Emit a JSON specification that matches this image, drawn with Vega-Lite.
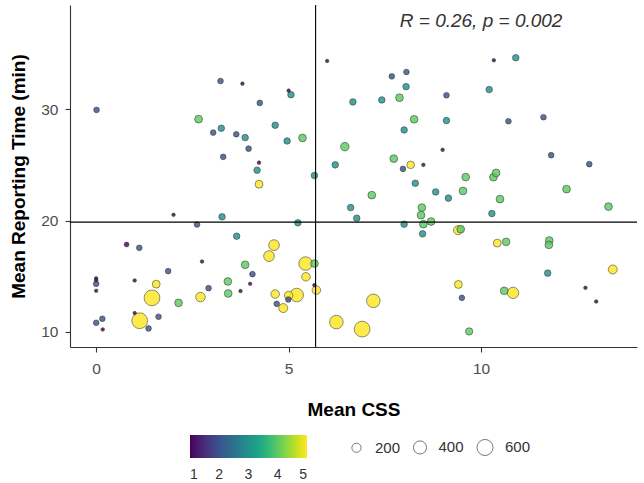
{
  "$schema": "https://vega.github.io/schema/vega-lite/v6.json",
  "width": 567,
  "height": 342,
  "autosize": {"type": "none"},
  "padding": {"left": 70, "top": 5, "right": 7, "bottom": 136},
  "background": "white",
  "config": {"font": "Liberation Sans", "view": {"stroke": null}, "axis": {"grid": false}},
  "datasets": {
    "pts": [
    {"css": 0.01, "rt": 29.94, "sev": 2, "n": 75},
    {"css": 3.23, "rt": 32.54, "sev": 2, "n": 75},
    {"css": 3.80, "rt": 32.30, "sev": 1, "n": 30},
    {"css": 4.25, "rt": 30.57, "sev": 2, "n": 75},
    {"css": 2.66, "rt": 29.11, "sev": 4, "n": 145},
    {"css": 3.04, "rt": 27.90, "sev": 2, "n": 75},
    {"css": 3.25, "rt": 28.29, "sev": 3, "n": 100},
    {"css": 3.64, "rt": 27.75, "sev": 2, "n": 75},
    {"css": 3.87, "rt": 27.45, "sev": 3, "n": 100},
    {"css": 3.96, "rt": 26.46, "sev": 2, "n": 75},
    {"css": 3.30, "rt": 25.72, "sev": 2, "n": 75},
    {"css": 4.23, "rt": 25.20, "sev": 1, "n": 30},
    {"css": 4.18, "rt": 24.52, "sev": 3, "n": 100},
    {"css": 6.00, "rt": 34.34, "sev": 1, "n": 30},
    {"css": 7.68, "rt": 32.96, "sev": 2, "n": 75},
    {"css": 8.06, "rt": 33.35, "sev": 2, "n": 75},
    {"css": 8.05, "rt": 32.03, "sev": 3, "n": 100},
    {"css": 7.88, "rt": 31.04, "sev": 4, "n": 140},
    {"css": 7.42, "rt": 30.84, "sev": 3, "n": 100},
    {"css": 6.67, "rt": 30.66, "sev": 3, "n": 100},
    {"css": 5.00, "rt": 31.67, "sev": 1, "n": 30},
    {"css": 5.06, "rt": 31.31, "sev": 3, "n": 100},
    {"css": 4.65, "rt": 28.56, "sev": 3, "n": 100},
    {"css": 4.96, "rt": 27.15, "sev": 3, "n": 100},
    {"css": 5.36, "rt": 27.42, "sev": 4, "n": 140},
    {"css": 6.46, "rt": 26.64, "sev": 4, "n": 170},
    {"css": 8.26, "rt": 29.10, "sev": 4, "n": 140},
    {"css": 8.00, "rt": 28.14, "sev": 3, "n": 100},
    {"css": 9.10, "rt": 31.26, "sev": 2, "n": 75},
    {"css": 9.10, "rt": 28.98, "sev": 3, "n": 100},
    {"css": 9.00, "rt": 26.35, "sev": 1, "n": 30},
    {"css": 7.73, "rt": 25.56, "sev": 4, "n": 140},
    {"css": 8.17, "rt": 25.00, "sev": 5, "n": 135},
    {"css": 7.97, "rt": 24.64, "sev": 2, "n": 75},
    {"css": 8.50, "rt": 25.00, "sev": 1, "n": 30},
    {"css": 6.21, "rt": 25.00, "sev": 3, "n": 100},
    {"css": 5.67, "rt": 24.04, "sev": 3, "n": 100},
    {"css": 10.33, "rt": 34.40, "sev": 1, "n": 30},
    {"css": 10.90, "rt": 34.63, "sev": 3, "n": 100},
    {"css": 10.21, "rt": 31.77, "sev": 3, "n": 100},
    {"css": 10.71, "rt": 28.92, "sev": 2, "n": 75},
    {"css": 11.62, "rt": 29.28, "sev": 2, "n": 75},
    {"css": 11.82, "rt": 25.87, "sev": 2, "n": 75},
    {"css": 12.81, "rt": 25.06, "sev": 2, "n": 75},
    {"css": 9.60, "rt": 23.90, "sev": 4, "n": 140},
    {"css": 10.32, "rt": 23.89, "sev": 4, "n": 140},
    {"css": 10.39, "rt": 24.28, "sev": 4, "n": 140},
    {"css": 9.53, "rt": 22.66, "sev": 4, "n": 140},
    {"css": 9.15, "rt": 22.01, "sev": 3, "n": 100},
    {"css": 10.49, "rt": 21.92, "sev": 4, "n": 140},
    {"css": 12.22, "rt": 22.82, "sev": 4, "n": 140},
    {"css": 13.31, "rt": 21.25, "sev": 4, "n": 140},
    {"css": 10.28, "rt": 20.62, "sev": 3, "n": 100},
    {"css": 9.47, "rt": 19.22, "sev": 4, "n": 140},
    {"css": 9.40, "rt": 19.13, "sev": 5, "n": 190},
    {"css": 10.42, "rt": 17.97, "sev": 5, "n": 145},
    {"css": 10.65, "rt": 18.08, "sev": 4, "n": 140},
    {"css": 11.77, "rt": 18.20, "sev": 4, "n": 140},
    {"css": 11.76, "rt": 17.81, "sev": 4, "n": 140},
    {"css": 11.73, "rt": 15.27, "sev": 3, "n": 100},
    {"css": 13.42, "rt": 15.60, "sev": 5, "n": 190},
    {"css": 9.41, "rt": 14.25, "sev": 5, "n": 145},
    {"css": 9.50, "rt": 13.05, "sev": 2, "n": 75},
    {"css": 10.60, "rt": 13.68, "sev": 4, "n": 140},
    {"css": 10.83, "rt": 13.50, "sev": 5, "n": 300},
    {"css": 12.71, "rt": 13.95, "sev": 1, "n": 30},
    {"css": 12.99, "rt": 12.72, "sev": 1, "n": 30},
    {"css": 9.69, "rt": 10.03, "sev": 4, "n": 125},
    {"css": 4.23, "rt": 23.26, "sev": 5, "n": 145},
    {"css": 7.16, "rt": 22.28, "sev": 4, "n": 140},
    {"css": 8.29, "rt": 23.35, "sev": 3, "n": 100},
    {"css": 8.82, "rt": 22.57, "sev": 3, "n": 100},
    {"css": 6.61, "rt": 21.16, "sev": 3, "n": 100},
    {"css": 6.77, "rt": 20.21, "sev": 3, "n": 100},
    {"css": 5.24, "rt": 19.79, "sev": 3, "n": 100},
    {"css": 8.46, "rt": 21.16, "sev": 4, "n": 140},
    {"css": 8.44, "rt": 20.48, "sev": 4, "n": 140},
    {"css": 8.70, "rt": 19.91, "sev": 4, "n": 140},
    {"css": 8.50, "rt": 19.67, "sev": 4, "n": 140},
    {"css": 8.00, "rt": 19.67, "sev": 3, "n": 100},
    {"css": 8.48, "rt": 18.80, "sev": 3, "n": 100},
    {"css": 4.62, "rt": 17.79, "sev": 5, "n": 270},
    {"css": 4.49, "rt": 16.80, "sev": 5, "n": 270},
    {"css": 5.44, "rt": 16.13, "sev": 5, "n": 430},
    {"css": 5.67, "rt": 16.13, "sev": 4, "n": 140},
    {"css": 5.45, "rt": 14.94, "sev": 5, "n": 170},
    {"css": 5.72, "rt": 13.74, "sev": 5, "n": 170},
    {"css": 5.67, "rt": 14.19, "sev": 1, "n": 30},
    {"css": 4.65, "rt": 13.39, "sev": 5, "n": 170},
    {"css": 5.00, "rt": 13.26, "sev": 5, "n": 170},
    {"css": 5.21, "rt": 13.30, "sev": 5, "n": 430},
    {"css": 4.69, "rt": 12.51, "sev": 2, "n": 75},
    {"css": 4.99, "rt": 12.90, "sev": 2, "n": 75},
    {"css": 4.86, "rt": 12.13, "sev": 5, "n": 190},
    {"css": 7.20, "rt": 12.78, "sev": 5, "n": 430},
    {"css": 6.24, "rt": 10.87, "sev": 5, "n": 430},
    {"css": 6.91, "rt": 10.24, "sev": 5, "n": 580},
    {"css": 2.01, "rt": 20.51, "sev": 1, "n": 30},
    {"css": 2.62, "rt": 19.64, "sev": 2, "n": 75},
    {"css": 3.27, "rt": 20.33, "sev": 3, "n": 100},
    {"css": 3.65, "rt": 18.59, "sev": 3, "n": 100},
    {"css": 0.79, "rt": 17.84, "sev": 1, "n": 55},
    {"css": 1.12, "rt": 17.54, "sev": 2, "n": 75},
    {"css": 2.75, "rt": 16.31, "sev": 1, "n": 30},
    {"css": 3.87, "rt": 16.02, "sev": 4, "n": 140},
    {"css": 4.06, "rt": 15.18, "sev": 2, "n": 75},
    {"css": 1.87, "rt": 15.45, "sev": 2, "n": 75},
    {"css": 0.00, "rt": 14.80, "sev": 1, "n": 30},
    {"css": 0.00, "rt": 14.63, "sev": 1, "n": 30},
    {"css": 0.00, "rt": 14.31, "sev": 2, "n": 75},
    {"css": 0.00, "rt": 13.68, "sev": 1, "n": 30},
    {"css": 1.00, "rt": 14.61, "sev": 1, "n": 30},
    {"css": 1.56, "rt": 14.28, "sev": 5, "n": 145},
    {"css": 1.45, "rt": 13.05, "sev": 5, "n": 580},
    {"css": 2.14, "rt": 12.60, "sev": 4, "n": 140},
    {"css": 2.71, "rt": 13.12, "sev": 5, "n": 215},
    {"css": 2.92, "rt": 13.92, "sev": 2, "n": 75},
    {"css": 3.42, "rt": 14.52, "sev": 4, "n": 140},
    {"css": 3.43, "rt": 13.44, "sev": 4, "n": 140},
    {"css": 3.75, "rt": 13.66, "sev": 1, "n": 30},
    {"css": 4.00, "rt": 14.31, "sev": 1, "n": 30},
    {"css": 1.00, "rt": 11.68, "sev": 1, "n": 30},
    {"css": 1.13, "rt": 10.99, "sev": 5, "n": 580},
    {"css": 1.62, "rt": 11.35, "sev": 2, "n": 75},
    {"css": 1.36, "rt": 10.30, "sev": 2, "n": 75},
    {"css": 0.00, "rt": 10.81, "sev": 2, "n": 75},
    {"css": 0.16, "rt": 11.17, "sev": 2, "n": 75},
    {"css": 0.17, "rt": 10.21, "sev": 1, "n": 30}
    ],
    "refs": [{"mean_css": 5.7, "mean_rt": 19.85}],
    "stat": [{"css": 10, "rt": 37.95, "label": "R = 0.26, p = 0.002"}]
  },
  "layer": [
    {
      "data": {"name": "pts"},
      "mark": {"type": "point", "filled": true, "stroke": "#333333", "strokeWidth": 0.6, "fillOpacity": 0.82, "strokeOpacity": 0.9},
      "encoding": {
        "x": {"field": "css", "type": "quantitative", "scale": {"domain": [-0.68, 14.05], "nice": false, "zero": false},
          "axis": {"values": [0, 5, 10], "title": "Mean CSS", "titleFontSize": 19, "titleFontWeight": "bold", "titleColor": "black", "labelFontSize": 15.5, "labelColor": "#4d4d4d", "tickColor": "#333333", "domainColor": "#333333", "tickSize": 5, "tickWidth": 1.1, "domainWidth": 1.1, "labelPadding": 9, "titlePadding": 24, "grid": false}},
        "y": {"field": "rt", "type": "quantitative", "scale": {"domain": [8.63, 39.37], "nice": false, "zero": false},
          "axis": {"values": [10, 20, 30], "title": "Mean Reporting Time (min)", "titleFontSize": 19, "titleFontWeight": "bold", "titleColor": "black", "labelFontSize": 15.5, "labelColor": "#4d4d4d", "tickColor": "#333333", "domainColor": "#333333", "tickSize": 5, "tickWidth": 1.1, "domainWidth": 1.1, "labelPadding": 7, "titlePadding": 12, "grid": false}},
        "color": {"field": "sev", "type": "quantitative", "scale": {"scheme": "viridis", "domain": [1, 5]},
          "legend": {"title": null, "orient": "none", "direction": "horizontal", "legendX": 120, "legendY": 430, "gradientLength": 117, "gradientThickness": 23, "values": [1, 2, 3, 4, 5], "labelFontSize": 14, "labelColor": "#333333", "labelOffset": 10, "gradientStrokeWidth": 0, "padding": 0}},
        "size": {"field": "n", "type": "quantitative", "scale": {"type": "linear", "domain": [0, 700], "range": [0, 300], "zero": true},
          "legend": {"title": null, "orient": "none", "direction": "horizontal", "legendX": 279, "legendY": 433, "values": [200, 400, 600], "labelFontSize": 15, "labelColor": "#333333", "symbolType": "circle", "symbolFillColor": "white", "symbolStrokeColor": "#777777", "symbolStrokeWidth": 1, "symbolOpacity": 1, "columnPadding": 9.5, "labelOffset": 11, "padding": 0,
            "encode": {"symbols": {"update": {"fill": {"value": "white"}, "stroke": {"value": "#777777"}, "strokeWidth": {"value": 1}, "opacity": {"value": 1}, "fillOpacity": {"value": 1}}}}}},
        "order": {"field": "n", "type": "quantitative", "sort": "descending"}
      }
    },
    {
      "data": {"name": "refs"},
      "mark": {"type": "rule", "color": "black", "strokeWidth": 1.1},
      "encoding": {"x": {"field": "mean_css", "type": "quantitative"}}
    },
    {
      "data": {"name": "refs"},
      "mark": {"type": "rule", "color": "black", "strokeWidth": 1.1},
      "encoding": {"y": {"field": "mean_rt", "type": "quantitative"}}
    },
    {
      "data": {"name": "stat"},
      "mark": {"type": "text", "fontStyle": "italic", "fontSize": 19, "color": "#333333", "align": "center", "baseline": "middle"},
      "encoding": {"x": {"field": "css", "type": "quantitative"}, "y": {"field": "rt", "type": "quantitative"}, "text": {"field": "label"}}
    }
  ]
}
